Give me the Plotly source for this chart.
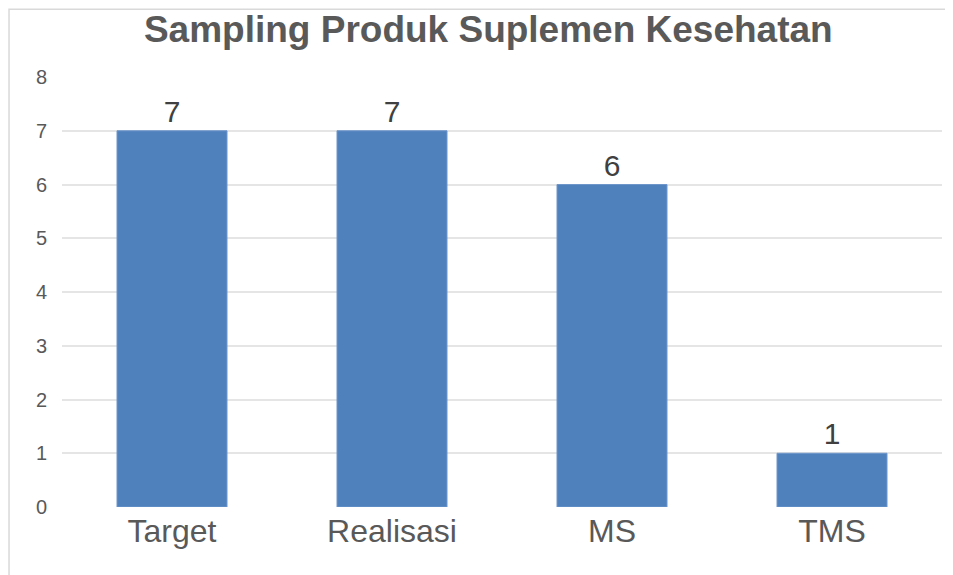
import plotly.graph_objects as go

categories = ["Target", "Realisasi", "MS", "TMS"]
values = [7, 7, 6, 1]
y_ticks = [0, 1, 2, 3, 4, 5, 6, 7, 8]

fig = go.Figure(go.Bar(
    x=categories, y=values,
    marker=dict(color="#4F81BD", line=dict(color="#6F96CB", width=1)),
    width=0.5,
    text=[str(v) for v in values],
    textposition="outside",
    textfont=dict(family="Liberation Sans, Arial", size=30, color="#404040"),
    cliponaxis=False,
))

fig.update_layout(
    width=953, height=575,
    paper_bgcolor="white", plot_bgcolor="white",
    margin=dict(l=54, r=19, t=69, b=76),
    title=dict(text="<b>Sampling Produk Suplemen Kesehatan</b>",
               x=0.504, xanchor="center", y=0.964, yanchor="middle",
               font=dict(family="Liberation Sans, Arial", size=37, color="#595959")),
    showlegend=False,
    bargap=0.5,
    shapes=[dict(type="rect", xref="paper", yref="paper",
                 x0=-0.0602, x1=1.08, y0=-0.25, y1=1.1575,
                 line=dict(color="#d9d9d9", width=1.5), layer="below")],
)
fig.update_xaxes(
    showgrid=False, showline=False, zeroline=False,
    tickfont=dict(family="Liberation Sans, Arial", size=32, color="#595959"),
    ticks="", ticklabelstandoff=2,
)
fig.update_yaxes(
    range=[0, 8], tickvals=y_ticks,
    showgrid=True, gridcolor="#e5e5e5", gridwidth=2,
    zeroline=False, showline=False,
    tickfont=dict(family="Liberation Sans, Arial", size=20, color="#595959"),
    ticks="", ticklabelstandoff=14,
)

fig.write_html("out.html")
